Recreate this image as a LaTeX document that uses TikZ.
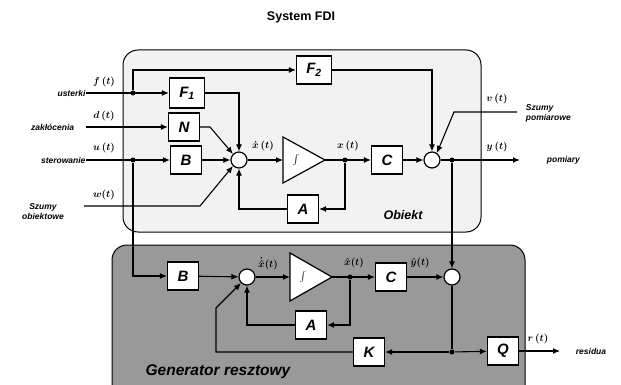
\documentclass[tikz,border=0pt]{standalone}
\usepackage{fontspec}
\setmainfont{Liberation Sans}
\usetikzlibrary{arrows.meta}

\begin{document}
\begin{tikzpicture}[x=1pt,y=-1pt, line width=1.1pt,
  >={Latex[length=7pt,width=6pt]},
  blk/.style={draw, fill=white, line width=1.3pt, minimum width=31pt, minimum height=28pt,
    inner sep=0pt, font=\fontsize{15}{15}\selectfont\bfseries\itshape},
  sum/.style={circle, draw, fill=white, line width=1.2pt, minimum size=16pt, inner sep=0pt},
  lbl/.style={font=\fontsize{8.5}{10}\selectfont\bfseries\itshape},
  sig/.style={font=\fontsize{10}{10}\selectfont\boldmath, inner sep=0.5pt},
  jdot/.style={circle, fill=black, inner sep=0pt, minimum size=5pt}]
\useasboundingbox (0,0) rectangle (621,385);

% obiekt i generator resztowy
\filldraw[fill=black!5, rounded corners=15pt, line width=1pt] (123,50) rectangle (481,232);
\filldraw[fill=black!40, rounded corners=15pt, line width=1pt] (112,245) rectangle (525,400);

\node[font=\fontsize{12.5}{13}\selectfont\bfseries] (title) at (301,17) {System FDI};
\node[font=\fontsize{12.5}{12}\selectfont\bfseries\itshape] (obiekt) at (403,215) {Obiekt};
\node[font=\fontsize{15.5}{15}\selectfont\bfseries\itshape] (gen) at (218,372) {Generator resztowy};

% bloki
\node[blk, minimum width=35pt, minimum height=30pt] (F1) at (187,93) {F\textsubscript{1}};
\node[blk, minimum width=35pt] (F2) at (314,70) {F\textsubscript{2}};
\node[blk] (N) at (184,127) {N};
\node[blk] (B1) at (186,160) {B};
\node[blk] (A1) at (303,209) {A};
\node[blk] (C1) at (387,160) {C};
\node[blk] (B2) at (183,276) {B};
\node[blk] (A2) at (311,325) {A};
\node[blk] (C2) at (391,277) {C};
\node[blk] (K) at (369,352) {K};
\node[blk] (Q) at (503,351) {Q};

\node[sum] (S1) at (239,160) {};
\node[sum] (S2) at (432,160) {};
\node[sum] (SB) at (247,277) {};
\node[sum] (S3) at (452,277) {};

% integratory
\filldraw[fill=white, line width=1.2pt] (283,137) -- (325,160) -- (283,183) -- cycle;
\filldraw[fill=white, line width=1.2pt] (290,253) -- (332,277) -- (290,301) -- cycle;
\coordinate (I1w) at (283,160);
\coordinate (I1e) at (325,160);
\coordinate (I2w) at (290,277);
\coordinate (I2e) at (332,277);
\node[font=\large] at (296,160) {$\int$};
\node[font=\large] at (303,277) {$\int$};

% wejscia i wyjscia
\coordinate (fin) at (86,93);
\coordinate (din) at (86,127);
\coordinate (uin) at (86,160);
\coordinate (win) at (84,206);
\coordinate (vin) at (517,112);
\coordinate (yout) at (520,160);
\coordinate (rout) at (560,351);

\node[jdot] (jf) at (133,93) {};
\node[jdot] (ju) at (133,160) {};
\node[jdot] (jx) at (345,160) {};
\node[jdot] (jy) at (452,160) {};
\node[jdot] (jxh) at (350,277) {};
\node[jdot] (jr) at (452,352) {};

\node[lbl, anchor=east, inner sep=0pt] (ust) at (fin) {usterki};
\node[lbl, anchor=east] (zak) at (78,127) {zakłócenia};
\node[lbl, anchor=east, inner sep=0pt] (ster) at (uin) {sterowanie};
\node[lbl, align=center] (szo) at (43,212) {Szumy\\obiektowe};
\node[lbl, align=left, anchor=west] (szp) at (522,113) {Szumy\\pomiarowe};
\node[lbl, anchor=west] (pom) at (543,160) {pomiary};
\node[lbl, anchor=west] (res) at (572,351) {residua};

\node[sig] at (104,82) {$f\,(t)$};
\node[sig] at (104,116) {$d\,(t)$};
\node[sig] at (104,148) {$u\,(t)$};
\node[sig] at (104,195) {$w(t)$};
\node[sig] at (263,146) {$\dot{x}\,(t)$};
\node[sig] at (348,146) {$x\,(t)$};
\node[sig] at (497,99) {$v\,(t)$};
\node[sig] at (497,147) {$y\,(t)$};
\node[sig] at (268,264) {$\dot{\hat{x}}(t)$};
\node[sig] at (354,263) {$\hat{x}(t)$};
\node[sig] at (420,263) {$\hat{y}(t)$};
\node[sig] at (538,339) {$r\,(t)$};

% obiekt
\draw[->] (fin) -- (F1);
\draw[->] (jf) |- (F2);
\draw[->] (din) -- (N);
\draw[->] (uin) -- (B1);
\draw[->] (F1) -| (S1);
\draw[->] (N.east) -- (210,127) -- (S1.135);
\draw[->] (B1) -- (S1);
\draw[->] (win) -- (200,206) -- (S1.225);
\draw[->] (S1) -- (I1w);
\draw[->] (I1e) -- (C1);
\draw[->] (jx) |- (A1);
\draw[->] (A1) -| (S1);
\draw[->] (C1) -- (S2);
\draw[->] (F2) -| (S2);
\draw[->] (vin) -- (454,112) -- (S2.55);
\draw[->] (S2) -- (yout);
\draw[->] (jy) -- (S3);

% generator resztowy
\draw[->] (ju) |- (B2);
\draw[->] (B2) -- (SB);
\draw[->] (SB) -- (I2w);
\draw[->] (I2e) -- (C2);
\draw[->] (jxh) |- (A2);
\draw[->] (A2) -| (SB);
\draw[->] (C2) -- (S3);
\draw (S3) -- (jr);
\draw[->] (jr) -- (K);
\draw[->] (jr) -- (Q);
\draw[->] (K.west) -- (216,352) -- (216,308) -- (SB.225);
\draw[->] (Q) -- (rout);
\end{tikzpicture}
\end{document}
